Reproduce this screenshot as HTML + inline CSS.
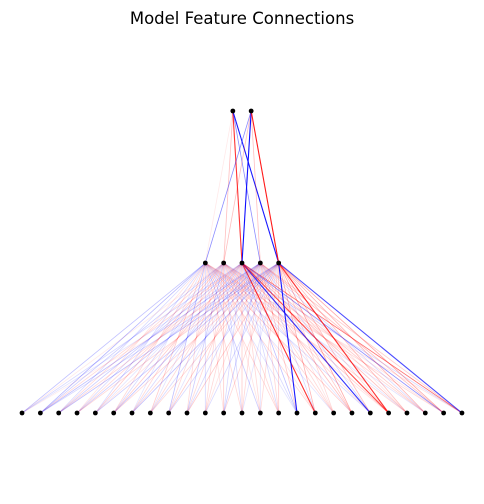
<!DOCTYPE html>
<html><head><meta charset="utf-8"><style>
body{margin:0;background:#fff;}
svg{display:block;font-family:"DejaVu Sans","Liberation Sans",sans-serif;}
</style></head><body>
<svg id="chart" width="484" height="504" viewBox="0 0 484 504">
<text x="242" y="24" text-anchor="middle" font-size="16.5">Model Feature Connections</text>
<g id="edges"></g>
<g id="nodes"></g>
</svg>
<script>
const layerSizes = [2, 5, 25];
// weights top(2) -> middle(5): rows = top node
const weightsTopMid = [
  [0.12, 0.3, 0.8, -0.5, -0.9],
  [-0.5, 0.3, -0.95, 0.3, 0.9]
];
// weights middle(5) -> bottom(25): rows = middle node
const weightsMidBot = [
  [-0.3,-0.35,-0.2,0.15,-0.2,0.2,-0.15,0.25,-0.3,0.2,-0.2,0.15,0.2,-0.25,0.2,-0.15,0.2,-0.15,0.25,-0.2,0.15,0.2,-0.15,0.2,0.15],
  [0.12,-0.25,0.2,-0.2,0.25,-0.2,0.2,-0.15,0.2,-0.25,0.2,0.25,-0.2,0.15,0.2,-0.2,0.15,0.2,-0.15,0.2,0.25,-0.15,0.2,0.15,-0.2],
  [-0.2,0.2,-0.25,0.2,-0.15,0.25,-0.2,0.2,-0.15,0.2,0.2,-0.2,0.25,0.2,-0.2,-0.3,0.8,0.2,0.3,-0.8,0.7,0.3,0.25,-0.5,0.6],
  [-0.15,-0.3,0.2,-0.25,0.15,-0.3,0.2,-0.2,0.25,-0.2,0.15,-0.25,0.2,-0.15,0.2,0.25,-0.2,0.15,0.25,-0.2,0.2,0.15,-0.2,0.3,0.25],
  [0.1,-0.2,-0.3,0.2,-0.25,0.2,-0.3,0.2,-0.2,0.25,-0.2,0.2,-0.15,0.2,0.25,-0.9,0.35,0.2,0.4,0.3,0.8,0.3,0.35,0.4,-0.7]
];
const layerY = [111, 263, 413];
const spacing = 18.33;
const centerX = 242;
function nodeX(layer, i){ return centerX + (i - (layerSizes[layer]-1)/2) * spacing; }
const NS = "http://www.w3.org/2000/svg";
const eg = document.getElementById('edges');
const ng = document.getElementById('nodes');
function edge(l, i, j, w){
  const a = Math.abs(w);
  const ln = document.createElementNS(NS,'line');
  ln.setAttribute('x1', nodeX(l,i)); ln.setAttribute('y1', layerY[l]);
  ln.setAttribute('x2', nodeX(l+1,j)); ln.setAttribute('y2', layerY[l+1]);
  ln.setAttribute('stroke', w >= 0 ? '#ff0000' : '#0000ff');
  ln.setAttribute('stroke-opacity', a > 0.6 ? Math.min(1, a) : Math.pow(a, 1.15));
  ln.setAttribute('stroke-width', a > 0.6 ? 1.1 : 0.8);
  
  
  eg.appendChild(ln);
}
weightsTopMid.forEach((row,i)=>row.forEach((w,j)=>edge(0,i,j,w)));
weightsMidBot.forEach((row,i)=>row.forEach((w,j)=>edge(1,i,j,w)));
for (let l=0;l<layerSizes.length;l++){
  for (let i=0;i<layerSizes[l];i++){
    const c = document.createElementNS(NS,'circle');
    c.setAttribute('cx', nodeX(l,i)); c.setAttribute('cy', layerY[l]); c.setAttribute('r', 2.4);
    c.setAttribute('fill', '#000');
    
    
    ng.appendChild(c);
  }
}
</script>
</body></html>
